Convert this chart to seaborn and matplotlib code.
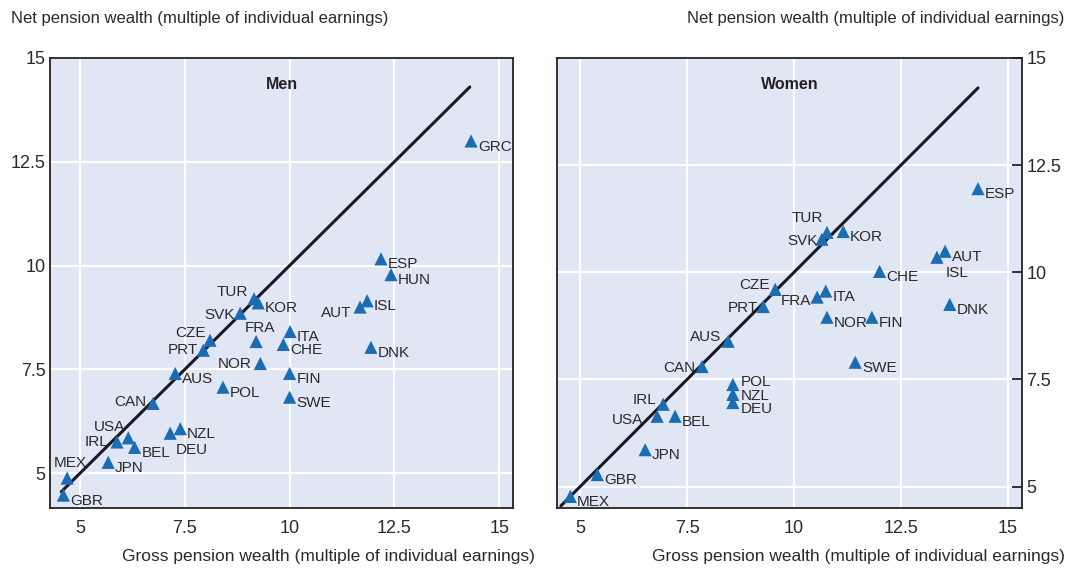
import matplotlib
matplotlib.use("Agg")
import matplotlib.pyplot as plt
import seaborn as sns
import pandas as pd

# countries and values (gross vs net pension wealth)
men_countries = ["GRC", "ESP", "HUN", "AUT", "ISL", "DNK", "TUR", "KOR", "SVK",
                 "FRA", "ITA", "CHE", "NOR", "FIN", "SWE", "POL", "CZE", "PRT",
                 "AUS", "CAN", "USA", "IRL", "BEL", "NZL", "DEU", "JPN", "MEX", "GBR"]
men_gross = [14.33, 12.18, 12.42, 11.68, 11.85, 11.94, 9.15, 9.25, 8.82,
             9.2, 10.01, 9.85, 9.3, 10.0, 10.0, 8.41, 8.1, 7.94,
             7.27, 6.74, 6.15, 5.88, 6.3, 7.39, 7.15, 5.67, 4.69, 4.6]
men_net = [13.0, 10.16, 9.78, 9.0, 9.15, 8.03, 9.2, 9.1, 8.85,
           8.17, 8.41, 8.1, 7.64, 7.4, 6.83, 7.07, 8.2, 7.96,
           7.4, 6.68, 5.85, 5.75, 5.62, 6.07, 5.96, 5.26, 4.88, 4.47]

women_countries = ["ESP", "AUT", "ISL", "CHE", "DNK", "TUR", "KOR", "SVK", "CZE",
                   "PRT", "FRA", "ITA", "NOR", "FIN", "SWE", "AUS", "CAN", "POL",
                   "NZL", "DEU", "IRL", "USA", "BEL", "JPN", "GBR", "MEX"]
women_gross = [14.3, 13.53, 13.34, 12.0, 13.64, 10.77, 11.15, 10.65, 9.56,
               9.28, 10.54, 10.74, 10.77, 11.82, 11.43, 8.46, 7.85, 8.57,
               8.57, 8.57, 6.94, 6.8, 7.22, 6.52, 5.4, 4.77]
women_net = [11.95, 10.49, 10.35, 10.02, 9.25, 10.93, 10.95, 10.77, 9.6,
             9.2, 9.42, 9.56, 8.95, 8.95, 7.9, 8.39, 7.8, 7.38,
             7.15, 6.96, 6.92, 6.64, 6.64, 5.86, 5.28, 4.77]

diag_range = [4.55, 14.3]
tick_vals = [5, 7.5, 10, 12.5, 15]
tick_text = ["5", "7.5", "10", "12.5", "15"]

# label offsets (points) per country: dx, dy, alignment
R = (5, -4, "left")
men_offsets = {
    "GRC": R, "ESP": R, "HUN": R, "ISL": R, "DNK": R, "KOR": R, "ITA": R,
    "CHE": R, "FIN": R, "SWE": R, "POL": R, "AUS": R, "BEL": R, "NZL": R,
    "JPN": R, "GBR": R,
    "AUT": (-6, -4, "right"), "TUR": (-4, 5, "right"), "SVK": (-4, -1, "right"),
    "FRA": (3, 10, "center"), "NOR": (-6, 0, "right"), "CZE": (-3, 5, "right"),
    "PRT": (-4, 0, "right"), "CAN": (-5, 1, "right"), "USA": (-2, 8, "right"),
    "IRL": (-6, 0, "right"), "DEU": (4, -12, "left"), "MEX": (2, 11, "center"),
}
women_offsets = {
    "ESP": R, "AUT": R, "CHE": R, "DNK": R, "KOR": R, "ITA": R, "NOR": R,
    "FIN": R, "SWE": R, "BEL": R, "JPN": R, "GBR": R, "MEX": R,
    "POL": (6, 2, "left"), "NZL": (6, -1, "left"), "DEU": (6, -5, "left"),
    "ISL": (6, -11, "left"), "TUR": (-3, 10, "right"), "SVK": (-3, -1, "right"),
    "CZE": (-4, 3, "right"), "PRT": (-4, -1, "right"), "FRA": (-4, -3, "right"),
    "AUS": (-5, 3, "right"), "CAN": (-5, -1, "right"), "IRL": (-5, 3, "right"),
    "USA": (-10, -3, "right"),
}

sns.set_theme(style="white")
plt.rcParams["font.family"] = ["Liberation Sans", "DejaVu Sans"]

BG = "#e0e6f3"
BLUE = "#1c6cb3"
TXT = "#2a2a2a"

fig = plt.figure(figsize=(10.7, 5.77), dpi=100)
ax_m = fig.add_axes([0.0467, 0.1196, 0.4327, 0.78])
ax_w = fig.add_axes([0.5206, 0.1196, 0.4346, 0.78])

men_df = pd.DataFrame({"country": men_countries, "gross": men_gross, "net": men_net})
women_df = pd.DataFrame({"country": women_countries, "gross": women_gross, "net": women_net})

panels = [
    (ax_m, men_df, men_offsets, "Men", (4.28, 15.33), (4.16, 15.0), "left"),
    (ax_w, women_df, women_offsets, "Women", (4.46, 15.33), (4.5, 15.0), "right"),
]

for ax, df, offs, title, xl, yl, side in panels:
    ax.set_facecolor(BG)
    ax.set_axisbelow(True)
    ax.grid(True, color="white", linewidth=1.6)
    ax.plot(diag_range, diag_range, color="#1a1a26", linewidth=2.2, zorder=2)
    sns.scatterplot(data=df, x="gross", y="net", ax=ax, marker="^", s=90,
                    color=BLUE, edgecolor="none", zorder=3, legend=False)
    for c, gx, ny in zip(df["country"], df["gross"], df["net"]):
        dx, dy, ha = offs[c]
        ax.annotate(c, (gx, ny), xytext=(dx, dy), textcoords="offset points",
                    ha=ha, va="center", fontsize=11, color=TXT, zorder=4)
    ax.set_xlim(*xl)
    ax.set_ylim(*yl)
    ax.set_xticks(tick_vals)
    ax.set_yticks(tick_vals)
    ax.set_xticklabels(tick_text)
    ax.set_yticklabels(tick_text)
    ax.set_xlabel("")
    ax.set_ylabel("")
    ax.tick_params(direction="in", length=7, width=1.3, colors="#222222",
                   labelsize=13, labelcolor=TXT)
    ax.tick_params(axis="x", pad=9)
    ax.tick_params(axis="y", pad=3)
    if side == "right":
        ax.yaxis.tick_right()
        ax.tick_params(axis="y", direction="in", length=7, width=1.3, pad=3)
    for sp in ax.spines.values():
        sp.set_color("#222222")
        sp.set_linewidth(1.3)
    ax.text(0.5, 0.94, title, transform=ax.transAxes,
            ha="center", va="center", fontsize=11.5, fontweight="bold", color="#222222")

fig.text(0.01, 0.968, "Net pension wealth (multiple of individual earnings)",
         ha="left", va="center", fontsize=12, color=TXT)
fig.text(0.995, 0.968, "Net pension wealth (multiple of individual earnings)",
         ha="right", va="center", fontsize=12, color=TXT)
fig.text(0.5, 0.036, "Gross pension wealth (multiple of individual earnings)",
         ha="right", va="center", fontsize=12.5, color=TXT)
fig.text(0.995, 0.036, "Gross pension wealth (multiple of individual earnings)",
         ha="right", va="center", fontsize=12.5, color=TXT)

fig.savefig("out.png", dpi=100, facecolor="white")
